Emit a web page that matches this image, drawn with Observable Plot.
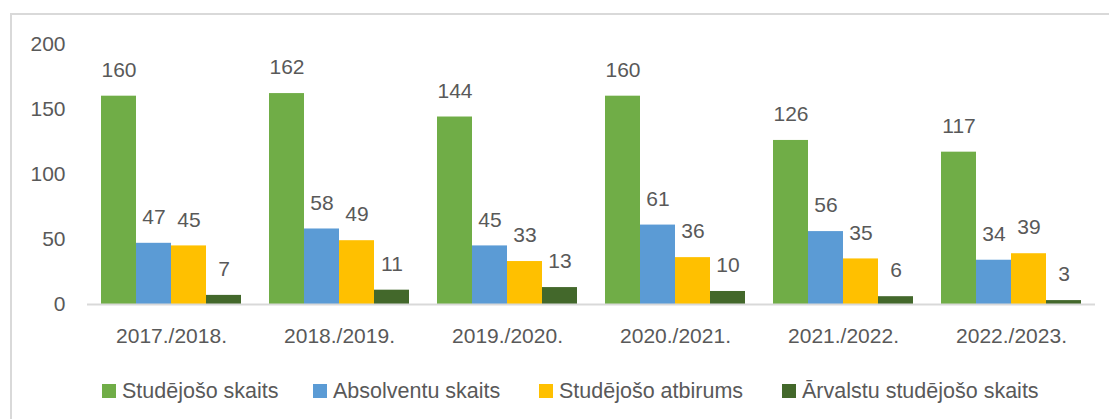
<!DOCTYPE html>
<html><head><meta charset="utf-8">
<script src="https://cdn.jsdelivr.net/npm/d3@7"></script>
<script src="https://cdn.jsdelivr.net/npm/@observablehq/plot@0.6"></script>
<style>
body{margin:0;background:#fff;font-family:"Liberation Sans",Arial,sans-serif;}
#wrap{position:relative;width:1109px;height:419px;overflow:hidden;background:#fff}
#frame{position:absolute;left:10px;top:13px;width:1200px;height:500px;border:2px solid #d9d9d9;box-sizing:border-box}
#chart{position:absolute;left:0;top:0}
#legend{position:absolute;left:0;top:378px;width:1109px;height:26px;font-size:21.5px;color:#595959;white-space:nowrap}
#legend .item{position:absolute;top:0;display:flex;align-items:center;height:26px}
#legend .sw{width:14px;height:14px;margin-right:6px}
</style>
</head><body>
<div id="wrap"><div id="frame"></div><div id="chart"></div><div id="legend"></div></div>
<script>
const years = ["2017./2018.", "2018./2019.", "2019./2020.", "2020./2021.", "2021./2022.", "2022./2023."];
const seriesNames = ["Studējošo skaits", "Absolventu skaits", "Studējošo atbirums", "Ārvalstu studējošo skaits"];
const studejosoSkaits = [160, 162, 144, 160, 126, 117];
const absolventuSkaits = [47, 58, 45, 61, 56, 34];
const studejosoAtbirums = [45, 49, 33, 36, 35, 39];
const arvalstuSkaits = [7, 11, 13, 10, 6, 3];
const colors = ["#70AD47", "#5B9BD5", "#FFC000", "#43682B"];
const yTicks = [0, 50, 100, 150, 200];
const legendLeft = [102, 313, 539, 782];

const seriesValues = [studejosoSkaits, absolventuSkaits, studejosoAtbirums, arvalstuSkaits];
const data = years.flatMap((y, i) => seriesNames.map((s, j) => ({year: y, series: s, value: seriesValues[j][i]})));

const chart = Plot.plot({
  width: 1109, height: 354,
  marginLeft: 87, marginRight: 14, marginTop: 43.6, marginBottom: 50,
  style: {fontFamily: '"Liberation Sans", Arial, sans-serif', fontSize: "21px", color: "#595959", background: "transparent", overflow: "visible"},
  fx: {domain: years, padding: 0, label: null, tickSize: 0, tickPadding: 24},
  x: {domain: seriesNames, axis: null, paddingInner: 0, paddingOuter: 0.383},
  y: {domain: [0, 200], ticks: yTicks, label: null, tickSize: 0, tickPadding: 22},
  color: {domain: seriesNames, range: colors},
  marks: [
    Plot.barY(data, {fx: "year", x: "series", y: "value", fill: "series", inset: 0}),
    Plot.text(data, {fx: "year", x: "series", y: "value", text: d => String(d.value), dy: -26, fill: "#595959", fontSize: 21}),
    Plot.ruleY([0], {stroke: "#d9d9d9", strokeWidth: 2})
  ]
});
document.getElementById("chart").appendChild(chart);

const legend = document.getElementById("legend");
seriesNames.forEach((s, i) => {
  const item = document.createElement("div");
  item.className = "item";
  item.style.left = legendLeft[i] + "px";
  const sw = document.createElement("span");
  sw.className = "sw";
  sw.style.background = colors[i];
  const t = document.createElement("span");
  t.textContent = s;
  item.appendChild(sw); item.appendChild(t);
  legend.appendChild(item);
});
</script>
</body></html>
